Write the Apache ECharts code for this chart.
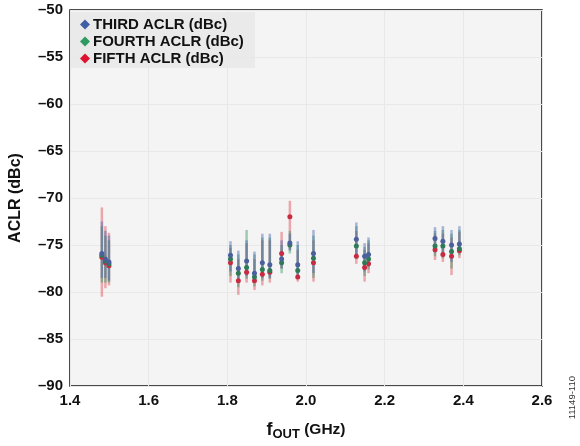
<!DOCTYPE html>
<html><head><meta charset="utf-8">
<script src="https://cdn.jsdelivr.net/npm/echarts@6/dist/echarts.min.js"></script>
<style>html,body{margin:0;padding:0;background:#fff}#c{width:580px;height:446px}</style>
</head><body><div id="c"></div>
<script>
const freq = [1.481,1.490,1.499, 1.808,1.828,1.849,1.869,1.889,1.908,1.938,1.959,1.979,2.019, 2.128,2.149,2.159, 2.328,2.348,2.370,2.390];
const third  = [-75.9,-76.5,-76.8, -76.1,-77.5,-76.7,-78.0,-76.9,-77.1,-76.5,-74.8,-77.1,-75.9, -74.4,-76.2,-76.0, -74.3,-74.6,-75.0,-74.9];
const fourth = [-76.1,-76.7,-77.0, -76.5,-78.0,-77.4,-78.4,-77.6,-77.7,-76.9,-75.0,-77.7,-76.4, -75.1,-76.9,-76.5, -75.1,-75.1,-75.7,-75.4];
const fifth  = [-76.3,-76.9,-77.2, -76.9,-78.8,-77.9,-78.8,-78.1,-77.9,-75.9,-72.0,-78.4,-76.9, -76.2,-77.4,-77.0, -75.5,-76.0,-76.2,-75.6];
const thirdHi  = [-72.5,-73.5,-74.0, -74.6,-75.6,-74.5,-75.7,-73.8,-73.8,-74.5,-73.8,-74.6,-73.4, -72.6,-74.8,-74.2, -73.1,-73.0,-73.4,-73.0];
const thirdLo  = [-78.5,-78.5,-78.8, -77.8,-79.0,-78.3,-79.0,-78.5,-78.5,-77.5,-75.6,-78.2,-78.0, -76.3,-77.8,-77.3, -75.8,-76.0,-76.8,-75.8];
const fourthHi = [-73.0,-74.0,-74.5, -75.0,-76.0,-73.4,-76.0,-74.2,-74.2,-75.0,-73.5,-75.0,-74.0, -73.0,-75.2,-74.5, -73.5,-73.4,-73.8,-73.4];
const fourthLo = [-79.0,-79.0,-79.0, -78.3,-79.5,-78.6,-79.4,-78.8,-78.6,-78.0,-75.9,-78.5,-78.5, -76.5,-78.3,-77.6, -76.2,-76.4,-77.5,-76.1];
const fifthHi  = [-71.0,-73.0,-73.7, -75.3,-76.5,-74.8,-76.5,-74.5,-74.5,-73.6,-70.3,-75.5,-74.5, -73.5,-75.5,-74.8, -73.8,-73.8,-74.2,-73.6];
const fifthLo  = [-80.5,-79.6,-79.3, -79.0,-80.3,-79.0,-79.8,-79.3,-79.0,-77.5,-75.5,-78.9,-78.9, -77.0,-78.9,-78.0, -76.6,-76.8,-78.2,-76.4];
const xTicks = [1.4,1.6,1.8,2.0,2.2,2.4,2.6];
const yTicks = [-90,-85,-80,-75,-70,-65,-60,-55,-50];
const names = ['THIRD ACLR (dBc)','FOURTH ACLR (dBc)','FIFTH ACLR (dBc)'];
const colors = ['#3f5fa6','#2f9a62','#e0102f'];
const barColors = ['rgba(70,100,175,0.45)','rgba(50,150,95,0.45)','rgba(225,70,85,0.45)'];
const markColors = ['#4a5f9c','#2f7a56','#c82a40'];

function errSeries(lo, hi, idx){
  return {
    type:'custom', silent:true, z:2,
    data: freq.map((f,i)=>[f, lo[i], hi[i]]),
    encode:{x:0,y:[1,2]},
    renderItem:function(params, api){
      const a = api.coord([api.value(0), api.value(1)]);
      const b = api.coord([api.value(0), api.value(2)]);
      return {type:'line', shape:{x1:a[0],y1:a[1],x2:b[0],y2:b[1]}, style:{stroke:barColors[idx], lineWidth:2.5}};
    }
  };
}
function ptSeries(vals, idx){
  return {
    type:'scatter', name:names[idx], z:5,
    symbol:'circle', symbolSize:5,
    itemStyle:{color:markColors[idx], opacity:1},
    data: freq.map((f,i)=>[f, vals[i]])
  };
}
const FF = 'Liberation Sans, Arial, sans-serif';
const lab = {fontFamily:FF, fontWeight:'bold', fontSize:15, color:'#111'};
const chart = echarts.init(document.getElementById('c'), null, {renderer:'canvas'});
chart.setOption({
  animation:false,
  grid:{left:69, right:38, top:10, bottom:60, show:true, backgroundColor:'#f4f4f4', borderColor:'#111', borderWidth:1.5},
  graphic:[
    {type:'rect', left:71, top:12, shape:{width:184, height:56}, style:{fill:'#eaeaea'}, z:0},
    {type:'text', left:567, top:376, rotation:Math.PI/2, style:{text:'11149-110', fontSize:9.5, fill:'#333', fontFamily:FF}}
  ],
  legend:{
    data:names.map((n,i)=>({name:n, icon:'diamond', itemStyle:{color:colors[i]}})),
    orient:'vertical', left:75, top:11, itemGap:0, itemWidth:10, itemHeight:10,
    textStyle:Object.assign({}, lab, {fontSize:15, lineHeight:17, padding:[0,0,0,-2]}), selectedMode:false
  },
  xAxis:{
    type:'value', min:1.4, max:2.6, interval:0.2,
    name:'{f|f}{s|OUT}{g| (GHz)}', nameLocation:'middle', nameGap:33,
    nameTextStyle:{rich:{
      f:Object.assign({},lab,{fontSize:18}),
      s:Object.assign({},lab,{fontSize:13, padding:[9,0,0,0]}),
      g:Object.assign({},lab,{fontSize:15.5})
    }},
    axisLine:{show:false}, axisTick:{show:false},
    axisLabel:Object.assign({}, lab, {margin:7, formatter:v=>v.toFixed(1)}),
    splitLine:{show:true, lineStyle:{color:'#e8e8e8', width:1}}
  },
  yAxis:{
    type:'value', min:-90, max:-50, interval:5,
    name:'ACLR (dBc)', nameLocation:'middle', nameGap:46, nameTextStyle:Object.assign({}, lab, {fontSize:16}),
    axisLine:{show:false}, axisTick:{show:false},
    axisLabel:Object.assign({}, lab, {margin:7, formatter:v=>String(v).replace('-','\u2013')}),
    splitLine:{show:true, lineStyle:{color:'#e8e8e8', width:1}}
  },
  series:[
    errSeries(fifthLo, fifthHi, 2),
    errSeries(fourthLo, fourthHi, 1),
    errSeries(thirdLo, thirdHi, 0),
    ptSeries(fifth, 2),
    ptSeries(fourth, 1),
    ptSeries(third, 0)
  ]
});
</script></body></html>
